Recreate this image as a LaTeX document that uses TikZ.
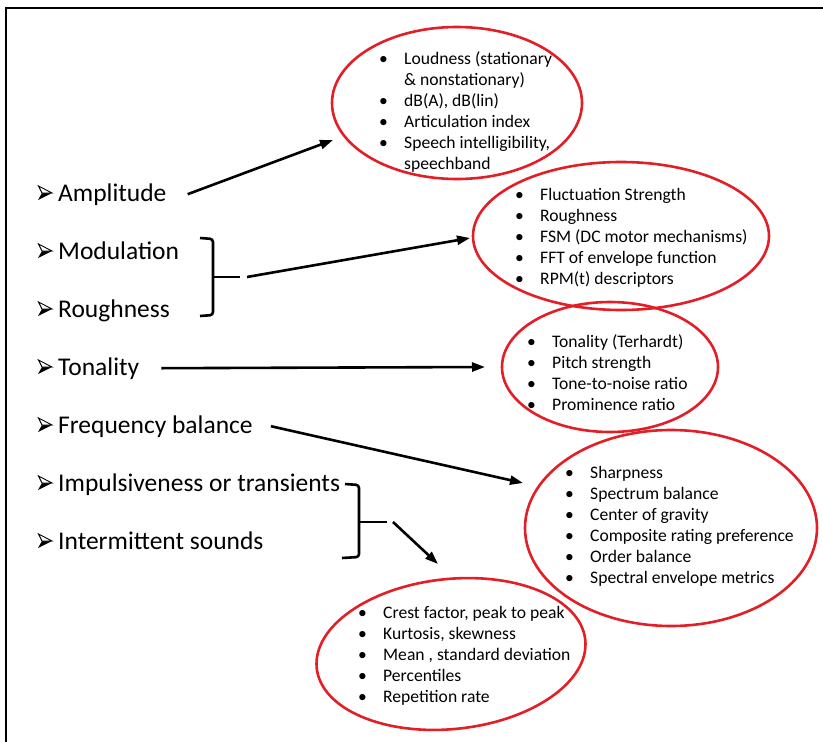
\documentclass[tikz,border=0pt]{standalone}
\usepackage{fontspec}
\setmainfont{Carlito}
\usetikzlibrary{arrows.meta,shapes.geometric}
\definecolor{ringred}{RGB}{226,30,38}
\newcommand{\itm}[1]{\hspace*{20pt}#1}
\newcommand{\bl}{\makebox[25pt][l]{\textbullet}}
\newcommand{\nbl}{\hspace*{25pt}}

\begin{document}
\begin{tikzpicture}[x=1pt,y=-1pt,
  topic/.style={anchor=base west, inner sep=0pt, font=\fontsize{25.5}{30}\selectfont},
  ring/.style={ellipse, draw=ringred, line width=2.6pt, inner sep=0pt},
  list/.style={anchor=base west, inner sep=0pt, font=\fontsize{17.6}{21}\selectfont},
  arr/.style={line width=2.6pt, -{Triangle[length=13pt,width=9pt]}},
  brk/.style={line width=2.6pt, rounded corners=3pt}]
\useasboundingbox (0,0) rectangle (823,742);
\draw[line width=2pt] (6,742) -- (6,8) -- (823,8);

\node[topic] (amp) at (38,201) {\itm{Amplitude}};
\node[topic] (mod) at (38,259) {\itm{Modulation}};
\node[topic] (rgh) at (38,317) {\itm{Roughness}};
\node[topic] (ton) at (38,375) {\itm{Tonality}};
\node[topic] (frq) at (38,433) {\itm{Frequency balance}};
\node[topic] (imp) at (38,491) {\itm{Impulsiveness or transients}};
\node[topic] (int) at (38,549) {\itm{Intermittent sounds}};
\foreach \t in {amp,mod,rgh,ton,frq,imp,int} {
  \fill ([shift={(0,-1)}]\t.base west) -- ++(14,-7) -- ++(-10,0) -- cycle;
  \draw[line width=0.9pt, line join=miter, fill=white]
    ([shift={(0.5,-15)}]\t.base west) -- ++(13.5,7) -- ++(-10,0) -- cycle;
}

\node[ring, minimum width=250pt, minimum height=152pt] (r1) at (457,103) {};
\node[ring, minimum width=296pt, minimum height=148pt] (r2) at (621,236) {};
\node[ring, minimum width=216pt, minimum height=130pt] (r3) at (610,367) {};
\node[ring, minimum width=292pt, minimum height=196pt] (r4) at (671,528) {};
\node[ring, minimum width=270pt, minimum height=150pt, rotate=6] (r5) at (451,654) {};

\node[list] (l1) at (379,64) {\begin{tabular}[t]{@{}l@{}}
  \bl Loudness (stationary\\ \nbl\& nonstationary)\\ \bl dB(A), dB(lin)\\
  \bl Articulation index\\ \bl Speech intelligibility,\\ \nbl speechband\end{tabular}};
\node[list] (l2) at (515,200.5) {\begin{tabular}[t]{@{}l@{}}
  \bl Fluctuation Strength\\ \bl Roughness\\ \bl FSM (DC motor mechanisms)\\
  \bl FFT of envelope function\\ \bl RPM(t) descriptors\end{tabular}};
\node[list] (l3) at (527,347) {\begin{tabular}[t]{@{}l@{}}
  \bl Tonality (Terhardt)\\ \bl Pitch strength\\ \bl Tone-to-noise ratio\\
  \bl Prominence ratio\end{tabular}};
\node[list] (l4) at (565,478) {\begin{tabular}[t]{@{}l@{}}
  \bl Sharpness\\ \bl Spectrum balance\\ \bl Center of gravity\\
  \bl Composite rating preference\\ \bl Order balance\\ \bl Spectral envelope metrics\end{tabular}};
\node[list] (l5) at (358,618) {\begin{tabular}[t]{@{}l@{}}
  \bl Crest factor, peak to peak\\ \bl Kurtosis, skewness\\ \bl Mean , standard deviation\\
  \bl Percentiles\\ \bl Repetition rate\end{tabular}};

\draw[brk] (200,238) -- (213,239) -- (213,315) -- (200,316);
\draw[line width=2.6pt] (213,277) -- (240,277) coordinate (b1);
\draw[brk] (345,484) -- (359,485) -- (359,557) -- (342,558);
\draw[line width=2.6pt] (359,522) -- (387,522) coordinate (b2);

\coordinate (e1) at (333,140);
\coordinate (e2) at (470,238);
\coordinate (e3) at (485,367);
\coordinate (e4) at (523,483);
\coordinate (e5) at (438,564);
\draw[arr] ([xshift=21pt]amp.east) -- (e1);
\draw[arr] ([xshift=7pt]b1) -- (e2);
\draw[arr] ([xshift=22pt]ton.east) -- (e3);
\draw[arr] ([xshift=18pt]frq.east) -- (e4);
\draw[arr] ([xshift=6pt]b2) -- (e5);
\end{tikzpicture}
\end{document}
